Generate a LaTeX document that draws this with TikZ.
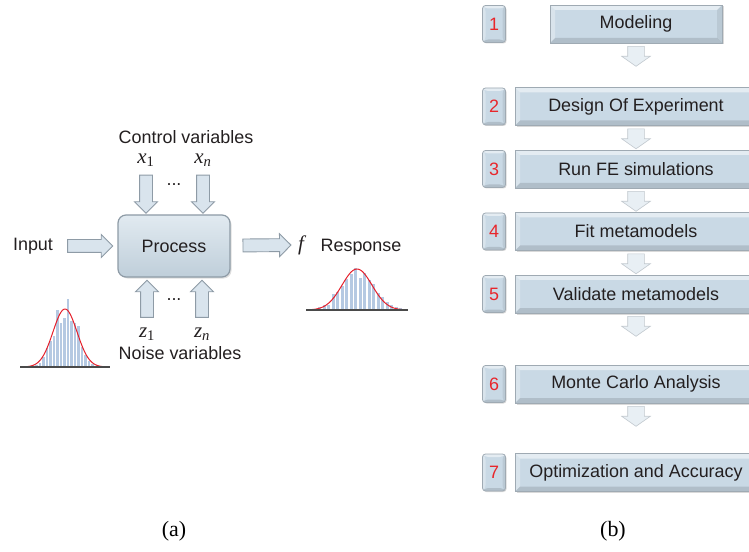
\documentclass[tikz,border=0pt]{standalone}
\usepackage{fontspec}
\setmainfont{Liberation Sans}
\newfontfamily\capfont{Liberation Serif}
\newcommand\var[2]{{\capfont\itshape #1}\textsubscript{\capfont #2}}
\usepackage{tikz}
\usetikzlibrary{shapes.arrows,shadows}

\definecolor{boxblue}{HTML}{C9D9E5}
\definecolor{boxedge}{HTML}{8E9BA6}
\definecolor{arrowfill}{HTML}{D9E4ED}
\definecolor{barblue}{HTML}{B5C9E2}
\definecolor{curvered}{HTML}{E5202B}
\definecolor{basegray}{HTML}{4A4A4A}
\definecolor{numred}{HTML}{E8262B}
\definecolor{inkgray}{HTML}{231F20}

\tikzset{
	bevelled/.style={path picture={
		\fill[white,opacity=0.5] (path picture bounding box.north west) -- (path picture bounding box.north east)
			-- ([xshift=-#1,yshift=-#1]path picture bounding box.north east) -- ([xshift=#1,yshift=-#1]path picture bounding box.north west) -- cycle;
		\fill[white,opacity=0.3] (path picture bounding box.north west) -- ([xshift=#1,yshift=-#1]path picture bounding box.north west)
			-- ([xshift=#1,yshift=#1]path picture bounding box.south west) -- (path picture bounding box.south west) -- cycle;
		\fill[black,opacity=0.12] (path picture bounding box.south west) -- (path picture bounding box.south east)
			-- ([xshift=-#1,yshift=#1]path picture bounding box.south east) -- ([xshift=#1,yshift=#1]path picture bounding box.south west) -- cycle;
		\fill[black,opacity=0.07] (path picture bounding box.north east) -- (path picture bounding box.south east)
			-- ([xshift=-#1,yshift=#1]path picture bounding box.south east) -- ([xshift=-#1,yshift=-#1]path picture bounding box.north east) -- cycle;
	}},
}

\begin{document}
\begin{tikzpicture}[x=1bp,y=-1bp,
	font=\fontsize{18}{21}\selectfont, text=inkgray,
	procbox/.style={draw=boxedge, line width=1.2bp, rounded corners=8bp,
		top color=boxblue!55!white, bottom color=boxblue!95!black,
		minimum width=112bp, minimum height=62bp,
		drop shadow={opacity=0.25,shadow xshift=1.5bp,shadow yshift=-1.5bp}},
	fatarrow/.style={single arrow, draw=boxedge, fill=arrowfill, line width=0.9bp,
		inner xsep=0pt, inner ysep=6bp, single arrow head extend=5bp},
	steparrow/.style={single arrow, draw=boxedge!55, fill=arrowfill!60!white, line width=0.6bp,
		inner xsep=0pt, inner ysep=8bp, single arrow head extend=6bp,
		single arrow tip angle=110, minimum height=20bp},
	stepbox/.style={draw=boxedge!85, line width=0.8bp, fill=boxblue, bevelled=5bp,
		minimum width=242bp, minimum height=38bp,
		drop shadow={opacity=0.3,shadow xshift=1.5bp,shadow yshift=-1.5bp}},
	numbox/.style={draw=boxedge!85, line width=0.8bp, fill=boxblue, bevelled=3bp,
		rounded corners=3bp, minimum width=23bp, minimum height=37bp, inner sep=0pt,
		text=numred, drop shadow={opacity=0.3,shadow xshift=1bp,shadow yshift=-1bp}},
	varlabel/.style={inner sep=1bp, font=\fontsize{21}{23}\selectfont},
	caption/.style={font=\capfont\fontsize{22}{24}\selectfont, text=black}]
	\useasboundingbox (0,0) rectangle (749,552);
	% (a) the process
	\node[inner ysep=1bp] (ctrl) at (186,137) {Control variables};
	\node[varlabel] (x1) at (146,160) {\var{x}{1}};
	\node[varlabel] (xn) at (203,160) {\var{x}{\itshape n}};
	\node (dtop) at (174,185) {...};
	\node[procbox] (proc) at (174,246) {Process};
	\node (input) at (33,246) {Input};
	\node[varlabel] (f) at (301,245) {{\capfont\itshape f}};
	\node (resp) at (361,247) {Response};
	\node (dbot) at (174,300) {...};
	\node[varlabel] (z1) at (147,334) {\var{z}{1}};
	\node[varlabel] (zn) at (202,334) {\var{z}{\itshape n}};
	\node[inner ysep=1bp] (noise) at (180,353) {Noise variables};
	%
	\path[every node/.style={fatarrow,sloped,allow upside down}]
	% horizontal arrows
	(input) -- node[minimum height=45bp]{} (proc)
	(proc) -- node[minimum height=48bp]{} (f)
	% vertical arrows
	(x1) -- node[minimum height=38bp]{} (x1 |- proc.north)
	(xn) -- node[minimum height=38bp]{} (xn |- proc.north)
	(z1) -- node[minimum height=37bp]{} (z1 |- proc.south)
	(zn) -- node[minimum height=37bp]{} (zn |- proc.south);
	%
	% histograms
	\foreach \bx/\bh in {35/2,38.5/4,42/10,45.5/19,49/26,52.5/31,56/57,59.5/44,63/49,66.5/68,70/46,73.5/44,77/41,80.5/20,84/12,87.5/6,91/3}
		\fill[barblue] (\bx,367) rectangle ++(2.8,-\bh);
	\draw[curvered,line width=1bp] plot[domain=28:102,samples=70] (\x,{367-58*exp(-((\x-65)^2)/288)});
	\draw[basegray,line width=1.2bp] (20,367) -- (110,367);
	\foreach \bx/\bh in {318/3,322.5/5,327/5,331.5/16,336/18,340.5/24,345/31,349.5/36,354/42,358.5/32,363/37,367.5/30,372/26,376.5/17,381/13,385.5/8,390/5,394.5/3,399/2}
		\fill[barblue] (\bx,310) rectangle ++(3.4,-\bh);
	\draw[curvered,line width=1bp] plot[domain=308:406,samples=70] (\x,{310-41*exp(-((\x-357)^2)/450)});
	\draw[basegray,line width=1.2bp] (306,310) -- (408,310);
	%
	% (b) the steps
	\node[stepbox,minimum width=172bp] (s1) at (636,24) {Modeling};
	\node[stepbox] (s2) at (636,106.5) {Design Of Experiment};
	\node[stepbox] (s3) at (636,169) {Run FE simulations};
	\node[stepbox] (s4) at (636,231.5) {Fit metamodels};
	\node[stepbox] (s5) at (636,294) {Validate metamodels};
	\node[stepbox] (s6) at (636,384) {Monte Carlo Analysis};
	\node[stepbox] (s7) at (636,472.5) {Optimization and Accuracy};
	\foreach \i/\y in {1/24,2/106.5,3/169,4/231.5,5/294,6/384,7/472.5}
		\node[numbox] (n\i) at (494,\y) {\i};
	\foreach \i in {1,...,6}
		\path (s\i.south) -- node[steparrow,sloped,allow upside down]{} ([yshift=-20bp]s\i.south);
	%
	\node[caption] (capa) at (174,531) {(a)};
	\node[caption] (capb) at (613,531) {(b)};
\end{tikzpicture}
\end{document}
